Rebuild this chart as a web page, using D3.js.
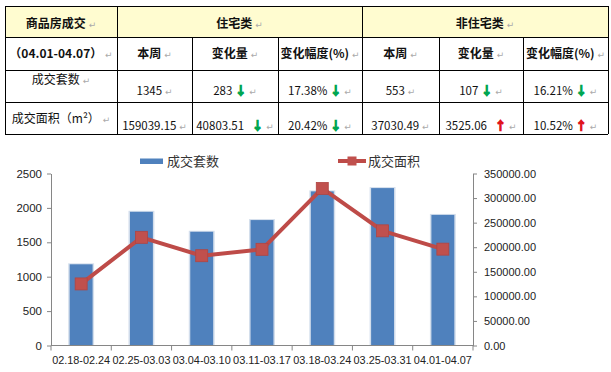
<!DOCTYPE html>
<html>
<head>
<meta charset="utf-8">
<script src="https://cdn.jsdelivr.net/npm/d3@7/dist/d3.min.js"></script>
<style>
  body { margin: 0; background: #fff; }
  svg { display: block; }
  .cell text { white-space: pre; }
</style>
</head>
<body>
<div id="chart"></div>
<script>
// table data
var corner = ["商品房成交", "（04.01-04.07）"];
var groups = ["住宅类", "非住宅类"];
var subHeads = ["本周", "变化量", "变化幅度(%)"];
var rowNames = ["成交套数", "成交面积（m²）"];
var resThisWeek = ["1345", "159039.15"];
var resChange = ["283", "40803.51"];
var resPct = ["17.38%", "20.42%"];
var resDir = ["down", "down"];
var nonResThisWeek = ["553", "37030.49"];
var nonResChange = ["107", "3525.06"];
var nonResPct = ["16.21%", "10.52%"];
var nonResDir = ["down", "up"];

// chart data
var categories = ["02.18-02.24", "02.25-03.03", "03.04-03.10", "03.11-03.17", "03.18-03.24", "03.25-03.31", "04.01-04.07"];
var units = [1180, 1943, 1653, 1823, 2240, 2288, 1898];
var areas = [125300, 220100, 182700, 195700, 319600, 233348, 196070];
var leftTicks = [0, 500, 1000, 1500, 2000, 2500];
var rightTicks = [0, 50000, 100000, 150000, 200000, 250000, 300000, 350000];
var seriesNames = ["成交套数", "成交面积"];

var W = 611, H = 372;
var svg = d3.select("#chart").append("svg")
    .attr("width", W)
    .attr("height", H);

// ---------- table ----------
var colX = [5, 117, 192, 278, 362, 439, 523, 608];
var rowY = [6, 37, 70, 102, 134];
var cjk = "'Noto Sans CJK SC', sans-serif";
var green = "#00a651", red = "#e0141e";

var tbl = svg.append("g").attr("class", "cell");

// yellow header row
tbl.append("rect")
    .attr("x", colX[0]).attr("y", rowY[0])
    .attr("width", colX[7] - colX[0]).attr("height", rowY[1] - rowY[0])
    .attr("fill", "#fffcd0");

// put text in a cell, centered, with arrow and paragraph mark
function cellText(cx, baseline, txt, opts) {
  opts = opts || {};
  var t = tbl.append("text")
      .attr("x", cx).attr("y", baseline)
      .attr("text-anchor", "middle")
      .style("font-family", cjk)
      .style("font-size", (opts.size || 12) + "px")
      .style("font-weight", opts.bold ? "bold" : "normal")
      .attr("fill", "#111");
  t.append("tspan").text(txt);
  if (opts.dir) {
    var c = opts.dir === "up" ? red : green;
    t.append("tspan").text(opts.gap || " ");
    t.append("tspan")
        .attr("fill", c)
        .attr("stroke", c)
        .attr("stroke-width", 1.1)
        .style("font-weight", "bold")
        .text(opts.dir === "up" ? "↑" : "↓");
  }
  t.append("tspan")
      .attr("fill", "#aaa")
      .style("font-family", "'DejaVu Sans'")
      .style("font-size", "9px")
      .style("font-weight", "normal")
      .text(" ↵");
}

function mid(a, b) { return (a + b) / 2; }

// row 1
cellText(mid(colX[0], colX[1]), 28, corner[0], {bold: true});
cellText(mid(colX[1], colX[4]), 28, groups[0], {bold: true});
cellText(mid(colX[4], colX[7]), 28, groups[1], {bold: true});

// row 2
cellText(mid(colX[0], colX[1]), 58, corner[1], {bold: true});
subHeads.concat(subHeads).forEach(function(s, i) {
  cellText(mid(colX[i + 1], colX[i + 2]), 58, s, {bold: true});
});

// rows 3-4
var labelBase = [84, 123], valueBase = [95, 130];
rowNames.forEach(function(name, r) {
  cellText(mid(colX[0], colX[1]), labelBase[r], name);
  var vals = [
    [resThisWeek[r], null], [resChange[r], resDir[r]], [resPct[r], resDir[r]],
    [nonResThisWeek[r], null], [nonResChange[r], nonResDir[r]], [nonResPct[r], nonResDir[r]]
  ];
  vals.forEach(function(v, i) {
    var gap = (r === 1 && (i === 1 || i === 4)) ? "   " : " ";
    cellText(mid(colX[i + 1], colX[i + 2]), valueBase[r], v[0],
      {dir: v[1], gap: (i === 2 || i === 5) ? "" : gap, size: 11.5});
  });
});

// grid lines
var lines = tbl.append("g")
    .attr("stroke", "#000")
    .attr("stroke-width", 1)
    .attr("shape-rendering", "crispEdges");
rowY.forEach(function(y) {
  lines.append("line").attr("x1", colX[0]).attr("x2", colX[7]).attr("y1", y).attr("y2", y);
});
colX.forEach(function(x, i) {
  var top = (i === 2 || i === 3 || i === 5 || i === 6) ? rowY[1] : rowY[0];
  lines.append("line").attr("x1", x).attr("x2", x).attr("y1", top).attr("y2", rowY[4]);
});

// ---------- chart ----------
var plot = {left: 51, right: 473, top: 173.5, bottom: 345.5};
var axisColor = "#868686";
var font = "'Liberation Sans', Arial, sans-serif";

var x = d3.scaleBand()
    .domain(categories)
    .range([plot.left, plot.right]);
var yL = d3.scaleLinear().domain([0, 2500]).range([plot.bottom, plot.top]);
var yR = d3.scaleLinear().domain([0, 350000]).range([plot.bottom, plot.top]);

var chart = svg.append("g");

var bw = x.bandwidth() * 0.38;

// bars
var bars = chart.append("g");
bars.selectAll(".shadow")
    .data(units)
  .enter().append("rect")
    .attr("class", "shadow")
    .attr("x", function(d, i) { return x(categories[i]) + x.bandwidth() / 2 - bw / 2 - 1.5; })
    .attr("y", function(d) { return yL(d) - 1; })
    .attr("width", bw + 3)
    .attr("height", function(d) { return plot.bottom - yL(d) + 1; })
    .attr("fill", "#d3deec");
bars.selectAll(".bar")
    .data(units)
  .enter().append("rect")
    .attr("class", "bar")
    .attr("x", function(d, i) { return x(categories[i]) + x.bandwidth() / 2 - bw / 2; })
    .attr("y", function(d) { return yL(d); })
    .attr("width", bw)
    .attr("height", function(d) { return plot.bottom - yL(d); })
    .attr("fill", "#4f81bd");

// left axis
var leftAxis = chart.append("g")
    .attr("transform", "translate(" + plot.left + ",0)")
    .call(d3.axisLeft(yL).tickValues(leftTicks).tickFormat(d3.format("d"))
      .tickSize(4).tickSizeOuter(0).tickPadding(5));
// right axis
var rightAxis = chart.append("g")
    .attr("transform", "translate(" + plot.right + ",0)")
    .call(d3.axisRight(yR).tickValues(rightTicks).tickFormat(d3.format(".2f"))
      .tickSize(4).tickSizeOuter(0).tickPadding(7));
[leftAxis, rightAxis].forEach(function(a) {
  a.select(".domain").attr("stroke", axisColor);
  a.selectAll(".tick line").attr("stroke", axisColor);
  a.selectAll("text")
      .style("font-family", font)
      .style("font-size", "11px")
      .attr("fill", "#222");
});
leftAxis.selectAll("text").style("font-size", "11.5px");

// bottom axis
var bottom = chart.append("g");
bottom.append("line")
    .attr("x1", plot.left).attr("x2", plot.right)
    .attr("y1", plot.bottom).attr("y2", plot.bottom)
    .attr("stroke", axisColor);
bottom.selectAll(".xtick")
    .data(categories.concat([null]))
  .enter().append("line")
    .attr("x1", function(d) { return d ? x(d) : plot.right; })
    .attr("x2", function(d) { return d ? x(d) : plot.right; })
    .attr("y1", plot.bottom).attr("y2", plot.bottom + 5)
    .attr("stroke", axisColor);
bottom.selectAll(".xlabel")
    .data(categories)
  .enter().append("text")
    .attr("x", function(d) { return x(d) + x.bandwidth() / 2; })
    .attr("y", 364)
    .attr("text-anchor", "middle")
    .attr("textLength", 58)
    .attr("lengthAdjust", "spacingAndGlyphs")
    .style("font-family", font)
    .style("font-size", "11px")
    .attr("fill", "#222")
    .text(function(d) { return d; });

// line series
var line = d3.line()
    .x(function(d, i) { return x(categories[i]) + x.bandwidth() / 2; })
    .y(function(d) { return yR(d); });

chart.append("path")
    .datum(areas)
    .attr("d", line)
    .attr("fill", "none")
    .attr("stroke", "#be4b48")
    .attr("stroke-width", 4)
    .attr("stroke-linejoin", "round");

chart.selectAll(".marker")
    .data(areas)
  .enter().append("rect")
    .attr("class", "marker")
    .attr("x", function(d, i) { return x(categories[i]) + x.bandwidth() / 2 - 6; })
    .attr("y", function(d) { return yR(d) - 6; })
    .attr("width", 12)
    .attr("height", 12)
    .attr("fill", "#c0504d")
    .attr("stroke", "#b04542")
    .attr("stroke-width", 0.8);

// legend
var legend = chart.append("g");
legend.append("rect")
    .attr("x", 140).attr("y", 158.5)
    .attr("width", 23).attr("height", 5.5)
    .attr("fill", "#4f81bd");
legend.append("text")
    .attr("x", 167).attr("y", 166)
    .style("font-family", cjk)
    .style("font-size", "13px")
    .attr("fill", "#333")
    .text(seriesNames[0]);
legend.append("line")
    .attr("x1", 338).attr("x2", 366)
    .attr("y1", 161).attr("y2", 161)
    .attr("stroke", "#be4b48")
    .attr("stroke-width", 4);
legend.append("rect")
    .attr("x", 347.5).attr("y", 156.5)
    .attr("width", 9).attr("height", 9)
    .attr("fill", "#c0504d");
legend.append("text")
    .attr("x", 368).attr("y", 166)
    .style("font-family", cjk)
    .style("font-size", "13px")
    .attr("fill", "#333")
    .text(seriesNames[1]);
</script>
</body>
</html>
